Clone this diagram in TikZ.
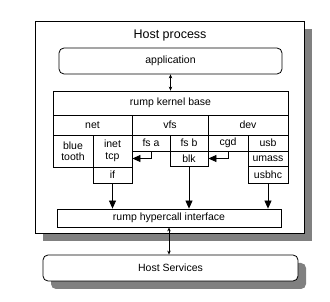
\documentclass[tikz,border=0pt]{standalone}
\usepackage{fontspec}
\setmainfont{Liberation Sans}
\usepackage{tikz}
\usetikzlibrary{arrows.meta,shadows}
\usepackage{xcolor}

\begin{document}
\begin{tikzpicture}[
  x=1pt, y=-1pt,
  every node/.style={draw=black, line width=0.8pt, inner sep=0pt, align=center, font=\fontsize{10.5}{11.5}\selectfont},
  cell/.style={rectangle, fill=white},
  rounded/.style={rectangle, rounded corners=5pt, fill=white},
  shade/.style={general shadow={fill=gray, shadow xshift=8pt, shadow yshift=-8pt}},
  title/.style={draw=none, font=\fontsize{12.5}{14}\selectfont},
  link/.style={line width=0.8pt, {Stealth[length=4pt,width=3.5pt]}-{Stealth[length=4pt,width=3.5pt]}},
  flow/.style={line width=0.8pt, -{Triangle[length=8pt,width=7pt]}}
]
\useasboundingbox (0,0) rectangle (330,302);
\node[cell, shade, minimum width=269pt, minimum height=212pt] (host) at (169.5,127) {};
\node[title] (hosttitle) at (170,35) {Host process};
\node[rounded, minimum width=223pt, minimum height=26pt] (app) at (170.5,61) {application};

\node[cell, minimum width=235pt, minimum height=24pt] (base) at (170.5,103) {rump kernel base};
\node[cell, minimum width=79pt, minimum height=20pt] (net) at (92.5,125) {net};
\node[cell, minimum width=76pt, minimum height=20pt] (vfs) at (170,125) {vfs};
\node[cell, minimum width=80pt, minimum height=20pt] (dev) at (248,125) {dev};

\node[cell, minimum width=40pt, minimum height=32pt] (blue) at (73,151) {blue\\tooth};
\node[cell, minimum width=39pt, minimum height=32pt] (inet) at (112.5,151) {inet\\tcp};
\node[cell, minimum width=39pt, minimum height=16pt] (if) at (112.5,175) {if};
\node[cell, minimum width=38pt, minimum height=16pt] (fsa) at (151,143) {fs a};
\node[cell, minimum width=38pt, minimum height=16pt] (fsb) at (189,143) {fs b};
\node[cell, minimum width=38pt, minimum height=15pt] (blk) at (189,158.5) {blk};
\node[cell, minimum width=40pt, minimum height=16pt] (cgd) at (228,143) {cgd};
\node[cell, minimum width=40pt, minimum height=16pt] (usb) at (268,143) {usb};
\node[cell, minimum width=40pt, minimum height=15pt] (umass) at (268,158.5) {umass};
\node[cell, minimum width=40pt, minimum height=17pt] (usbhc) at (268,174.5) {usbhc};

\node[cell, minimum width=224pt, minimum height=18pt] (hyper) at (169,218) {rump hypercall interface};
\node[rounded, shade, minimum width=255pt, minimum height=26pt] (services) at (170.5,268) {Host Services};

\draw[link] (app.south) -- (app.south |- base.north);
\draw[flow] (fsa.south) |- (inet.east |- blk.center);
\draw[flow] (cgd.south) |- (blk.east);
\draw[flow] (if.south) -- (if.south |- hyper.north);
\draw[flow] (blk.south) -- (blk.south |- hyper.north);
\draw[flow] (usbhc.south) -- (usbhc.south |- hyper.north);
\draw[link] (hyper.south) -- (hyper.south |- services.north);
\end{tikzpicture}
\end{document}
